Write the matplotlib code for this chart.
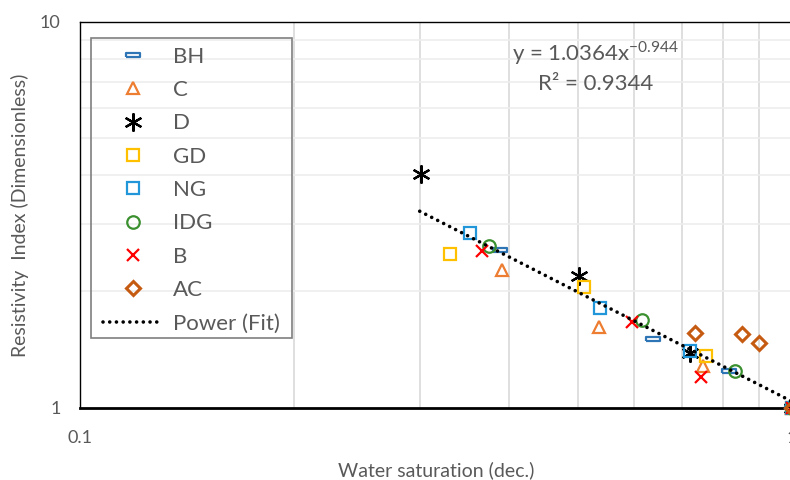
import numpy as np
import matplotlib
matplotlib.use("Agg")
import matplotlib.pyplot as plt
from matplotlib.patches import Rectangle

plt.rcParams["font.family"] = ["Lato", "DejaVu Sans"]

# water saturation (x) and resistivity index (y) per sample group
bh_sw = [0.389, 0.637, 0.816, 1.0]
bh_ri = [2.56, 1.51, 1.24, 1.0]
c_sw = [0.391, 0.535, 0.749, 1.0]
c_ri = [2.28, 1.62, 1.28, 1.0]
d_sw = [0.301, 0.502, 0.720, 1.0]
d_ri = [4.04, 2.19, 1.385, 1.0]
gd_sw = [0.331, 0.511, 0.757, 1.0]
gd_ri = [2.50, 2.06, 1.36, 1.0]
ng_sw = [0.353, 0.538, 0.719, 1.0]
ng_ri = [2.83, 1.81, 1.40, 1.0]
idg_sw = [0.375, 0.616, 0.832, 1.0]
idg_ri = [2.63, 1.69, 1.24, 1.0]
b_sw = [0.367, 0.596, 0.745, 1.0]
b_ri = [2.55, 1.67, 1.20, 1.0]
ac_sw = [0.730, 0.852, 0.898, 1.0]
ac_ri = [1.56, 1.55, 1.47, 1.0]

# power trendline shown on the chart
fit_a = 1.0364
fit_b = -0.944
fit_r2 = 0.9344
fit_range = [0.3, 1.0]

TXT = "#595959"
dash_marker = [(-1, -0.28), (1, -0.28), (1, 0.28), (-1, 0.28), (-1, -0.28)]

series = [
    ("BH", bh_sw, bh_ri, dict(marker=dash_marker, color="#2E75B6", ms=10)),
    ("C", c_sw, c_ri, dict(marker="^", color="#ED7D31", ms=9)),
    ("D", d_sw, d_ri, dict(marker=(6, 2, 0), color="black", ms=13)),
    ("GD", gd_sw, gd_ri, dict(marker="s", color="#FFC000", ms=8.5)),
    ("NG", ng_sw, ng_ri, dict(marker="s", color="#2196D8", ms=8.5)),
    ("IDG", idg_sw, idg_ri, dict(marker="o", color="#3A8F2E", ms=9)),
    ("B", b_sw, b_ri, dict(marker="x", color="#FF0000", ms=9)),
    ("AC", ac_sw, ac_ri, dict(marker="D", color="#C55A11", ms=7)),
]

fig = plt.figure(figsize=(7.9, 4.8), dpi=100)
ax = fig.add_axes([80 / 790, 72.5 / 480, 712 / 790, 385.5 / 480])
ax.set_xscale("log")
ax.set_yscale("log")
ax.set_xlim(0.1, 1)
ax.set_ylim(1, 10)

# gridlines
for g in [0.2, 0.3, 0.4, 0.5, 0.6, 0.7, 0.8, 0.9]:
    ax.axvline(g, color="#D9D9D9", lw=1.2, zorder=0)
for g in range(2, 10):
    ax.axhline(g, color="#EDEDED", lw=1.2, zorder=0)

handles = []
for name, xs, ys, st in series:
    mew = 2.2 if name == "AC" else 1.6
    ln, = ax.plot(xs, ys, ls="none", marker=st["marker"], ms=st["ms"],
                  mec=st["color"], mfc="none", mew=mew, clip_on=False, zorder=3,
                  label=name)
    handles.append(ln)

xf = np.linspace(fit_range[0], fit_range[1], 200)
fit_line, = ax.plot(xf, fit_a * xf ** fit_b, color="black", lw=2.6,
                    ls=(0, (0.01, 1.85)), dash_capstyle="round", zorder=4,
                    label="Power (Fit)")
handles.append(fit_line)

ax.text(596, 480 - 53, r"y = 1.0364x$^{\mathregular{-0.944}}$", transform=None,
        ha="center", va="center", fontsize=16, color=TXT)
ax.text(596, 480 - 84, f"R² = {fit_r2}", transform=None,
        ha="center", va="center", fontsize=16, color=TXT)

ax.xaxis.set_major_locator(matplotlib.ticker.FixedLocator([0.1, 1]))
ax.xaxis.set_minor_locator(matplotlib.ticker.NullLocator())
ax.yaxis.set_major_locator(matplotlib.ticker.FixedLocator([1, 10]))
ax.yaxis.set_minor_locator(matplotlib.ticker.NullLocator())
ax.set_xticklabels(["0.1", "1"])
ax.set_yticklabels(["1", "10"])
ax.tick_params(axis="both", length=0, labelsize=13, labelcolor=TXT)
ax.tick_params(axis="y", pad=14)
ax.tick_params(axis="x", pad=16)

for s in ["left", "top", "right"]:
    ax.spines[s].set_linewidth(1.0)
ax.spines["bottom"].set_linewidth(2.0)

fig.text(436 / 790, 1 - 470 / 480, "Water saturation (dec.)", ha="center",
         va="center", fontsize=14, color=TXT)
fig.text(20 / 790, 1 - 215 / 480, "Resistivity  Index (Dimensionless)", ha="center",
         va="center", rotation=90, fontsize=14, color=TXT)

# legend box drawn separately so the entries can sit inside it freely
fig.patches.append(Rectangle((91 / 790, 1 - 338 / 480), 201 / 790, 300 / 480,
                             transform=fig.transFigure, fill=False,
                             edgecolor="#7F7F7F", lw=1.2, zorder=5))
ax.legend(handles=handles, loc="upper left",
          bbox_to_anchor=(103 / 790, 1 - 46.8 / 480), bbox_transform=fig.transFigure,
          fontsize=16, frameon=False, labelspacing=0.60, handlelength=2.7,
          handletextpad=0.45, borderpad=0, borderaxespad=0, labelcolor=TXT)

fig.savefig("out.png", dpi=100)
